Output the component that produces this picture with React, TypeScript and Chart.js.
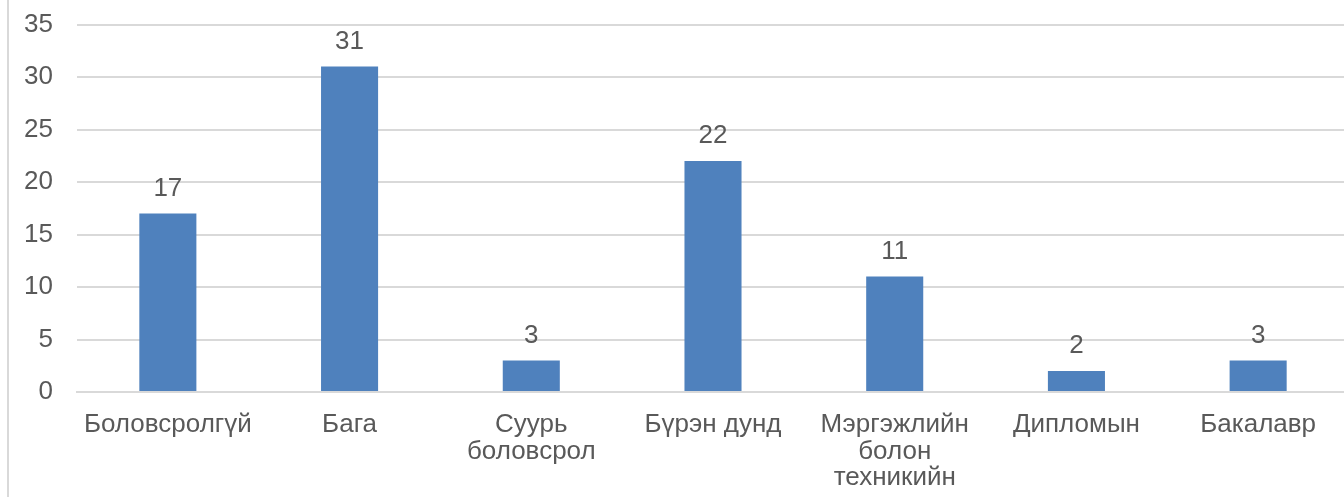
import React, { useEffect, useRef } from "react";
import { Chart, registerables } from "chart.js";

Chart.register(...registerables);

const categories: (string | string[])[] = [
  "Боловсролгүй",
  "Бага",
  ["Суурь", "боловсрол"],
  "Бүрэн дунд",
  ["Мэргэжлийн", "болон", "техникийн"],
  "Дипломын",
  "Бакалавр",
];
const values: number[] = [17, 31, 3, 22, 11, 2, 3];
const yTicks: number[] = [0, 5, 10, 15, 20, 25, 30, 35];

const TEXT = "#595959";
const FONT = "'Liberation Sans', Arial, sans-serif";

const labelPlugin = {
  id: "valueLabels",
  afterDatasetsDraw(chart: any) {
    const ctx = chart.ctx;
    const meta = chart.getDatasetMeta(0);
    ctx.save();
    ctx.fillStyle = TEXT;
    ctx.font = `26px ${FONT}`;
    ctx.textAlign = "center";
    ctx.textBaseline = "middle";
    meta.data.forEach((bar: any, i: number) => {
      ctx.fillText(String(values[i]), bar.x, bar.y - 25);
    });
    ctx.restore();
  },
};

export default function App() {
  const ref = useRef<HTMLCanvasElement>(null);
  useEffect(() => {
    if (!ref.current) return;
    const chart = new Chart(ref.current, {
      type: "bar",
      data: {
        labels: categories,
        datasets: [
          {
            data: values,
            backgroundColor: "#4F81BD",
            barPercentage: 1,
            categoryPercentage: 0.314,
          },
        ],
      },
      options: {
        animation: false,
        responsive: false,
        maintainAspectRatio: false,
        layout: { padding: { top: 10, right: 10, left: 0, bottom: 0 } },
        plugins: { legend: { display: false }, tooltip: { enabled: false } },
        scales: {
          x: {
            grid: { display: false, drawTicks: false },
            border: { display: true, color: "#d9d9d9", width: 2 },
            ticks: {
              color: TEXT,
              font: { family: FONT, size: 26, lineHeight: 1.02 },
              padding: 20,
              maxRotation: 0,
              autoSkip: false,
            },
            afterFit: (s: any) => {
              s.height = 105;
            },
          },
          y: {
            min: 0,
            max: 35,
            afterBuildTicks: (s: any) => {
              s.ticks = yTicks.map((v) => ({ value: v }));
            },
            grid: { color: "#d9d9d9", lineWidth: 2, drawTicks: false },
            border: { display: false },
            ticks: {
              color: TEXT,
              font: { family: FONT, size: 26 },
              padding: 24,
            },
            afterFit: (s: any) => {
              s.width = 68;
            },
          },
        },
      },
      plugins: [labelPlugin],
    });
    return () => chart.destroy();
  }, []);
  return (
    <div
      style={{
        position: "absolute",
        left: 7,
        top: 0,
        width: 1337,
        height: 497,
        overflow: "hidden",
        borderLeft: "2px solid #d9d9d9",
        background: "#fff",
      }}
    >
      <canvas
        ref={ref}
        width={1350}
        height={512}
        style={{ display: "block", marginTop: -15 }}
      />
    </div>
  );
}
